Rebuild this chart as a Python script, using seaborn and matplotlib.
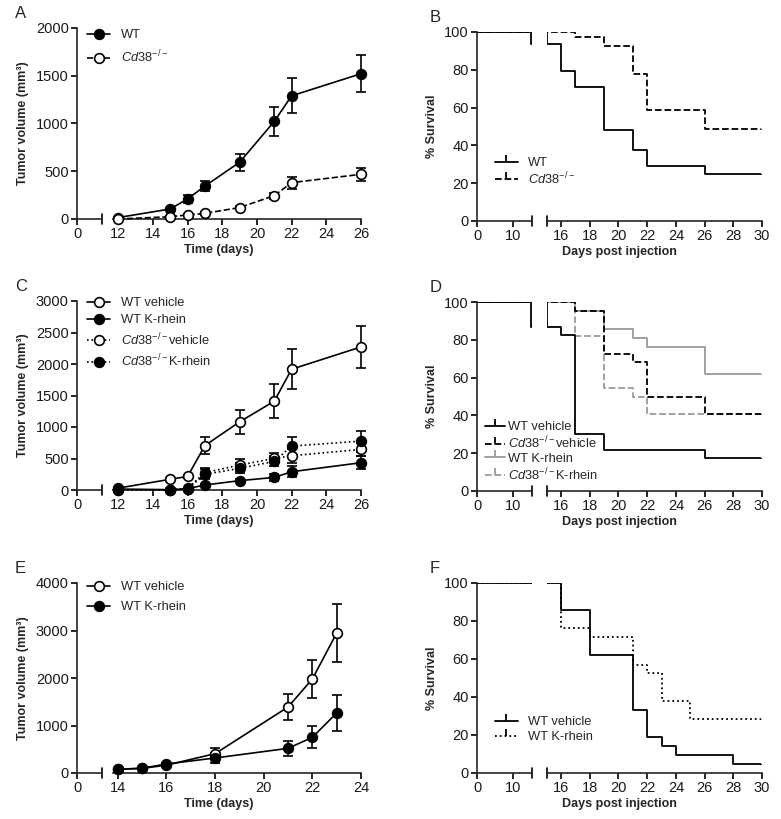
import matplotlib
matplotlib.use("Agg")
import matplotlib.pyplot as plt
import seaborn as sns
from matplotlib.lines import Line2D

# ---- data ----
# A: tumor growth, WT vs Cd38-/-
a_days = [12, 15, 16, 17, 19, 21, 22, 26]
a_wt = [15, 105, 210, 345, 594, 1022, 1290, 1521]
a_wt_err = [8, 15, 38, 56, 88, 155, 182, 195]
a_cd38 = [0, 24, 42, 59, 120, 245, 381, 468]
a_cd38_err = [4, 8, 10, 12, 15, 31, 62, 70]

# B: survival
b_wt_t = [0, 15, 16, 17, 19, 21, 22, 26, 30]
b_wt_s = [100, 93.8, 79.2, 70.8, 47.9, 37.5, 29.2, 25.0, 25.0]
b_cd38_t = [0, 17, 19, 21, 22, 26, 30]
b_cd38_s = [100, 97.6, 92.7, 78.0, 58.5, 48.8, 48.8]

# C: tumor growth with K-rhein
c_days = [12, 15, 16, 17, 19, 21, 22, 26]
c_wt_veh = [30, 170, 215, 705, 1082, 1410, 1917, 2271]
c_wt_veh_err = [8, 20, 25, 130, 195, 270, 320, 330]
c_wt_kr = [15, 5, 20, 80, 148, 200, 290, 433]
c_wt_kr_err = [4, 4, 8, 20, 20, 50, 90, 100]
c_cd_veh = [0, 0, 30, 275, 396, 501, 544, 644]
c_cd_veh_err = [4, 4, 8, 80, 90, 80, 110, 100]
c_cd_kr = [0, 0, 20, 248, 343, 454, 697, 776]
c_cd_kr_err = [4, 4, 8, 80, 80, 80, 150, 165]

# D: survival, four groups
d_wtv_t = [0, 15, 16, 17, 19, 26, 30]
d_wtv_s = [100, 87.0, 82.6, 30.4, 21.7, 17.4, 17.4]
d_cdv_t = [0, 17, 19, 21, 22, 26, 30]
d_cdv_s = [100, 95.5, 72.7, 68.2, 50.0, 40.9, 40.9]
d_wtk_t = [0, 17, 19, 21, 22, 26, 30]
d_wtk_s = [100, 95.2, 85.7, 81.0, 76.2, 61.9, 61.9]
d_cdk_t = [0, 17, 19, 21, 22, 30]
d_cdk_s = [100, 81.8, 54.5, 50.0, 40.9, 40.9]

# E: tumor growth WT vehicle vs K-rhein
e_days = [14, 15, 16, 18, 21, 22, 23]
e_veh = [77, 98, 165, 407, 1389, 1979, 2947]
e_veh_err = [10, 10, 15, 110, 280, 400, 615]
e_kr = [80, 100, 190, 316, 519, 751, 1263]
e_kr_err = [10, 10, 15, 100, 155, 235, 370]

# F: survival
f_veh_t = [0, 16, 18, 21, 22, 23, 24, 28, 30]
f_veh_s = [100, 85.7, 61.9, 33.3, 19.0, 14.3, 9.5, 4.8, 4.8]
f_kr_t = [0, 16, 18, 21, 22, 23, 25, 30]
f_kr_s = [100, 76.2, 71.4, 57.1, 52.4, 38.1, 28.6, 28.6]

CD38 = r"$\mathit{Cd38}^{-/-}$"
GRAY = "#9a9a9a"
TICK_FS = 10.5
LEG_FS = 9.3
LAB_FS = 9

sns.set_theme(style="ticks")
plt.rcParams["font.family"] = ["Liberation Sans", "DejaVu Sans"]
plt.rcParams["mathtext.fontset"] = "custom"
plt.rcParams["mathtext.rm"] = "Liberation Sans"
plt.rcParams["mathtext.it"] = "Liberation Sans:italic"
plt.rcParams["mathtext.bf"] = "Liberation Sans:bold"
plt.rcParams["axes.linewidth"] = 1.2

W, H = 781, 819
fig = plt.figure(figsize=(W / 100, H / 100), dpi=100)


def box(x0, x1, ytop, ybot):
    return [x0 / W, 1 - ybot / H, (x1 - x0) / W, (ybot - ytop) / H]


def style_ax(ax, left_spine):
    ax.spines["top"].set_visible(False)
    ax.spines["right"].set_visible(False)
    if not left_spine:
        ax.spines["left"].set_visible(False)
        ax.tick_params(axis="y", left=False, labelleft=False)
    ax.tick_params(direction="out", length=4, width=1.2, color="black",
                   labelsize=TICK_FS, pad=2, labelcolor="#1a1a1a")
    ax.set_xlabel("")
    ax.set_ylabel("")
    ax.patch.set_alpha(0)


def brk(ax, xpos):
    ax.plot([xpos, xpos], [-0.027, 0.027], transform=ax.transAxes,
            color="black", lw=1.2, clip_on=False)


def panel_axes(kind, ytop, ybot):
    if kind == "tumor":
        axl = fig.add_axes(box(77, 102, ytop, ybot))
        axr = fig.add_axes(box(113, 361, ytop, ybot))
    else:
        axl = fig.add_axes(box(477, 532, ytop, ybot))
        axr = fig.add_axes(box(547, 762, ytop, ybot))
    return axl, axr


def labels(kind, ytop, ybot, letter):
    if kind == "tumor":
        x0, x1, xl, yl_x, lx = 77, 361, "Time (days)", 23, 15
        yl = "Tumor volume (mm³)"
    else:
        x0, x1, xl, yl_x, lx = 477, 762, "Days post injection", 432, 430
        yl = "% Survival"
    fig.text((x0 + x1) / 2 / W, 1 - (ybot + 31) / H, xl, ha="center",
             va="center", fontsize=LAB_FS, fontweight="bold")
    fig.text(yl_x / W, 1 - (ytop + ybot) / 2 / H, yl, rotation=90,
             ha="center", va="center", fontsize=LAB_FS, fontweight="bold")
    fig.text(lx / W, 1 - (ytop - 10) / H, letter, ha="left",
             va="baseline", fontsize=12)


def tumor_series(ax, days, vals, errs, filled, ls):
    ax.errorbar(days, vals, yerr=errs, fmt="none", ecolor="black",
                elinewidth=1.2, capsize=3.5, capthick=1.2, zorder=2,
                clip_on=False)
    sns.lineplot(x=days, y=vals, ax=ax, color="black", linestyle=ls,
                 linewidth=1.2, marker="o", markersize=7,
                 markerfacecolor="black" if filled else "white",
                 markeredgecolor="black", markeredgewidth=1.2,
                 estimator=None, zorder=3, clip_on=False)


def surv_series(axes, t, s, color, ls):
    for ax in axes:
        sns.lineplot(x=t, y=s, ax=ax, color=color, linestyle=ls,
                     linewidth=1.3, drawstyle="steps-post", marker=2,
                     markersize=5, markeredgewidth=1.3,
                     markevery=[len(t) - 1], estimator=None, zorder=3)


def tumor_handle(filled, ls):
    return Line2D([], [], color="black", linestyle=ls, linewidth=1.2,
                  marker="o", markersize=7, markeredgewidth=1.2,
                  markerfacecolor="black" if filled else "white",
                  markeredgecolor="black")


def surv_handle(color, ls):
    return Line2D([], [], color=color, linestyle=ls, linewidth=1.3,
                  marker=2, markersize=5, markeredgewidth=1.3)


def legend(ax, handles, texts, x, y, spacing, hlen, pad):
    ax.legend(handles, texts, loc="upper left",
              bbox_to_anchor=(x / W, 1 - y / H),
              bbox_transform=fig.transFigure, frameon=False, fontsize=LEG_FS,
              borderpad=0, borderaxespad=0, labelspacing=spacing,
              handlelength=hlen, handletextpad=pad, numpoints=1)


def finish_tumor(axl, axr, xr, xticks, ymax, ystep):
    for ax in (axl, axr):
        ax.set_ylim(0, ymax)
    axl.set_xlim(0, 1)
    axl.set_xticks([0])
    axl.set_yticks(range(0, ymax + 1, ystep))
    axr.set_xlim(*xr)
    axr.set_xticks(xticks)
    style_ax(axl, True)
    style_ax(axr, False)
    brk(axl, 1)


def finish_surv(axl, axr):
    for ax in (axl, axr):
        ax.set_ylim(0, 100)
    axl.set_xlim(0, 15.25)
    axl.set_xticks([0, 10])
    axl.set_yticks(range(0, 101, 20))
    axr.set_xlim(15.02, 30)
    axr.set_xticks(range(16, 31, 2))
    style_ax(axl, True)
    style_ax(axr, False)
    brk(axl, 1)
    brk(axr, 0)


# ---- A ----
axl, axr = panel_axes("tumor", 28, 219)
tumor_series(axr, a_days, a_wt, a_wt_err, True, "-")
tumor_series(axr, a_days, a_cd38, a_cd38_err, False, "--")
finish_tumor(axl, axr, (11.7, 26), range(12, 27, 2), 2000, 500)
legend(axr, [tumor_handle(True, "-"), tumor_handle(False, "--")],
       ["WT", CD38], 87, 29, 0.6, 1.8, 0.85)
labels("tumor", 28, 219, "A")

# ---- B ----
axl, axr = panel_axes("surv", 32, 221)
surv_series((axl, axr), b_cd38_t, b_cd38_s, "black", "--")
surv_series((axl, axr), b_wt_t, b_wt_s, "black", "-")
finish_surv(axl, axr)
legend(axr, [surv_handle("black", "-"), surv_handle("black", "--")],
       ["WT", CD38], 495, 157, 0.1, 1.75, 0.8)
labels("surv", 32, 221, "B")

# ---- C ----
axl, axr = panel_axes("tumor", 301, 490)
tumor_series(axr, c_days, c_wt_veh, c_wt_veh_err, False, "-")
tumor_series(axr, c_days, c_wt_kr, c_wt_kr_err, True, "-")
tumor_series(axr, c_days, c_cd_veh, c_cd_veh_err, False, ":")
tumor_series(axr, c_days, c_cd_kr, c_cd_kr_err, True, ":")
finish_tumor(axl, axr, (11.7, 26), range(12, 27, 2), 3000, 500)
legend(axr, [tumor_handle(False, "-"), tumor_handle(True, "-"),
             tumor_handle(False, ":"), tumor_handle(True, ":")],
       ["WT vehicle", "WT K-rhein", CD38 + "vehicle", CD38 + "K-rhein"],
       87, 297, 0.4, 1.8, 0.85)
labels("tumor", 301, 490, "C")

# ---- D ----
axl, axr = panel_axes("surv", 302, 491)
surv_series((axl, axr), d_cdk_t, d_cdk_s, GRAY, "--")
surv_series((axl, axr), d_wtk_t, d_wtk_s, GRAY, "-")
surv_series((axl, axr), d_cdv_t, d_cdv_s, "black", "--")
surv_series((axl, axr), d_wtv_t, d_wtv_s, "black", "-")
finish_surv(axl, axr)
legend(axr, [surv_handle("black", "-"), surv_handle("black", "--"),
             surv_handle(GRAY, "-"), surv_handle(GRAY, "--")],
       ["WT vehicle", CD38 + "vehicle", "WT K-rhein", CD38 + "K-rhein"],
       485, 421, 0.12, 1.55, 0.2)
labels("surv", 302, 491, "D")

# ---- E ----
axl, axr = panel_axes("tumor", 583, 773)
tumor_series(axr, e_days, e_veh, e_veh_err, False, "-")
tumor_series(axr, e_days, e_kr, e_kr_err, True, "-")
finish_tumor(axl, axr, (13.8, 24), range(14, 25, 2), 4000, 1000)
legend(axr, [tumor_handle(False, "-"), tumor_handle(True, "-")],
       ["WT vehicle", "WT K-rhein"], 87, 581, 0.65, 1.8, 0.85)
labels("tumor", 583, 773, "E")

# ---- F ----
axl, axr = panel_axes("surv", 583, 773)
surv_series((axl, axr), f_kr_t, f_kr_s, "black", ":")
surv_series((axl, axr), f_veh_t, f_veh_s, "black", "-")
finish_surv(axl, axr)
legend(axr, [surv_handle("black", "-"), surv_handle("black", ":")],
       ["WT vehicle", "WT K-rhein"], 495, 716, 0.26, 1.75, 0.8)
labels("surv", 583, 773, "F")

fig.savefig("out.png", dpi=100)
